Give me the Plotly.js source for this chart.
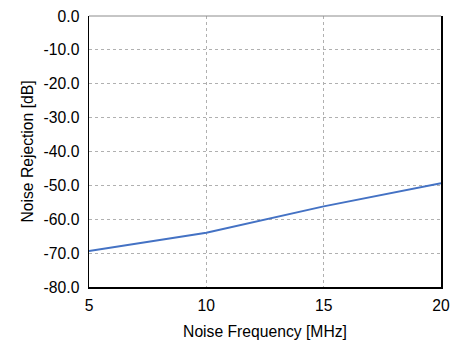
<!DOCTYPE html>
<html><head><meta charset="utf-8">
<script src="https://cdn.plot.ly/plotly-3.0.1.min.js"></script>
<style>html,body{margin:0;padding:0;background:#fff;}#chart{width:464px;height:358px;}</style>
</head><body><div id="chart"></div>
<script>
const frequencies = [5, 10, 15, 20];
const rejection = [-69.4, -64.0, -56.2, -49.4];
const yTicks = [0, -10, -20, -30, -40, -50, -60, -70, -80];
const yTickLabels = ["0.0", "-10.0", "-20.0", "-30.0", "-40.0", "-50.0", "-60.0", "-70.0", "-80.0"];
const xTicks = [5, 10, 15, 20];

const font = {family: "Liberation Sans, Arial, sans-serif", size: 15.7, color: "#000"};
Plotly.newPlot("chart", [{
  x: frequencies, y: rejection, type: "scatter", mode: "lines",
  line: {color: "#4472C4", width: 2}, hoverinfo: "skip"
}], {
  width: 464, height: 358,
  margin: {l: 89, r: 23, t: 16, b: 71},
  paper_bgcolor: "#fff", plot_bgcolor: "#fff",
  font: font, showlegend: false,
  xaxis: {
    range: [5, 20], tickvals: xTicks, ticktext: xTicks.map(String),
    showline: true, linecolor: "#000", linewidth: 1.5, mirror: false,
    showgrid: true, gridcolor: "#b0b0b0", griddash: "dot", gridwidth: 1,
    zeroline: false, ticks: "", ticklen: 0, tickfont: font, ticklabelstandoff: 4,
    title: {text: "Noise Frequency [MHz]", font: font, standoff: 12}
  },
  yaxis: {
    range: [-80, 0], tickvals: yTicks, ticktext: yTickLabels,
    showline: true, linecolor: "#000", linewidth: 1.5, mirror: true,
    showgrid: true, gridcolor: "#b0b0b0", griddash: "dot", gridwidth: 1,
    zeroline: false, ticks: "", tickfont: font, ticklabelstandoff: 5,
    title: {text: "Noise Rejection [dB]", font: font, standoff: 6}
  },
  shapes: [{type: "line", xref: "paper", yref: "paper", x0: 0, x1: 1, y0: 1, y1: 1,
    line: {color: "#8c8c8c", width: 1}}]
}, {displayModeBar: false, staticPlot: true});
</script></body></html>
